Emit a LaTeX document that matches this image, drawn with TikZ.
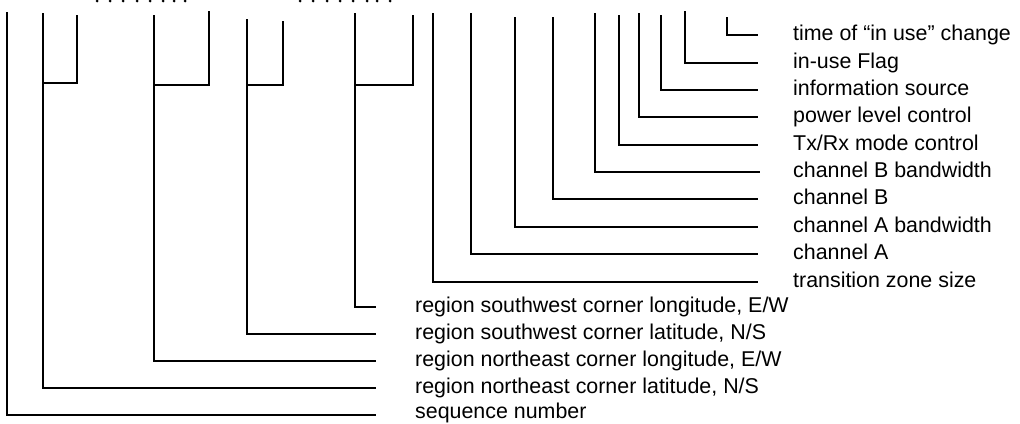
\documentclass[tikz,border=0pt]{standalone}
\usepackage{fontspec}
\setmainfont{Liberation Sans}
\begin{document}
\begin{tikzpicture}[x=1pt,y=-1pt,
  wire/.style={line width=2pt},
  lab/.style={anchor=base west, inner sep=0pt, font=\fontsize{21.4}{24}\selectfont},
  tick/.style={fill=black, circle, inner sep=0pt, minimum size=3pt}]
\useasboundingbox (0,0) rectangle (1020,423);

% truncated marks at the top edge
\foreach \k/\x in {1/97,2/110,3/123,4/137,5/150,6/163,7/174,8/185}
  \node[tick] (da\k) at (\x,1) {};
\foreach \k/\x in {1/300,2/313,3/327,4/340,5/353,6/367,7/377,8/390}
  \node[tick] (db\k) at (\x,1) {};

% ---- right-hand fields ----
\node[lab] (r1)  at (793,40.5)  {time of “in use” change};
\node[lab] (r2)  at (793,68)    {in-use Flag};
\node[lab] (r3)  at (793,95.5)  {information source};
\node[lab] (r4)  at (793,122.5) {power level control};
\node[lab] (r5)  at (793,150)   {Tx/Rx mode control};
\node[lab] (r6)  at (793,177.5) {channel B bandwidth};
\node[lab] (r7)  at (793,204.5) {channel B};
\node[lab] (r8)  at (793,232)   {channel A bandwidth};
\node[lab] (r9)  at (793,259.5) {channel A};
\node[lab] (r10) at (793,287)   {transition zone size};

\coordinate (rt1) at (727,17);  \coordinate (re1) at (758,35);
\coordinate (rt2) at (685,11);  \coordinate (re2) at (758,62.5);
\coordinate (rt3) at (661,15);  \coordinate (re3) at (758,90);
\coordinate (rt4) at (639,13);  \coordinate (re4) at (758,117);
\coordinate (rt5) at (619,15);  \coordinate (re5) at (758,144.5);
\coordinate (rt6) at (595,13);  \coordinate (re6) at (760,172);
\coordinate (rt7) at (553,17);  \coordinate (re7) at (758,199);
\coordinate (rt8) at (515,17);  \coordinate (re8) at (758,226.5);
\coordinate (rt9) at (471,13);  \coordinate (re9) at (758,254);
\coordinate (rt10) at (433,13); \coordinate (re10) at (758,281.5);

\foreach \k in {1,...,10} \draw[wire] (rt\k) |- (re\k);

% ---- bottom fields ----
\node[lab] (b1) at (415,312.5) {region southwest corner longitude, E/W};
\node[lab] (b2) at (415,339.5) {region southwest corner latitude, N/S};
\node[lab] (b3) at (415,366.5) {region northeast corner longitude, E/W};
\node[lab] (b4) at (415,393.5) {region northeast corner latitude, N/S};
\node[lab] (b5) at (415,418) {sequence number};

\coordinate (bt1) at (355,13); \coordinate (be1) at (376,307);
\coordinate (bt2) at (247,19); \coordinate (be2) at (376,334);
\coordinate (bt3) at (154,15); \coordinate (be3) at (376,361);
\coordinate (bt4) at (43,13);  \coordinate (be4) at (376,388);
\coordinate (bt5) at (7,12);   \coordinate (be5) at (376,415);

\foreach \k in {1,...,5} \draw[wire] (bt\k) |- (be\k);

% paired second strokes joined to the main ones
\coordinate (bs1) at (413,15); \coordinate (bj1) at (355,85);
\coordinate (bs2) at (283,21); \coordinate (bj2) at (247,85);
\coordinate (bs3) at (209,11); \coordinate (bj3) at (154,85);
\coordinate (bs4) at (77,15);  \coordinate (bj4) at (43,83);
\foreach \k in {1,...,4} \draw[wire] (bs\k) |- (bj\k);
\end{tikzpicture}
\end{document}
